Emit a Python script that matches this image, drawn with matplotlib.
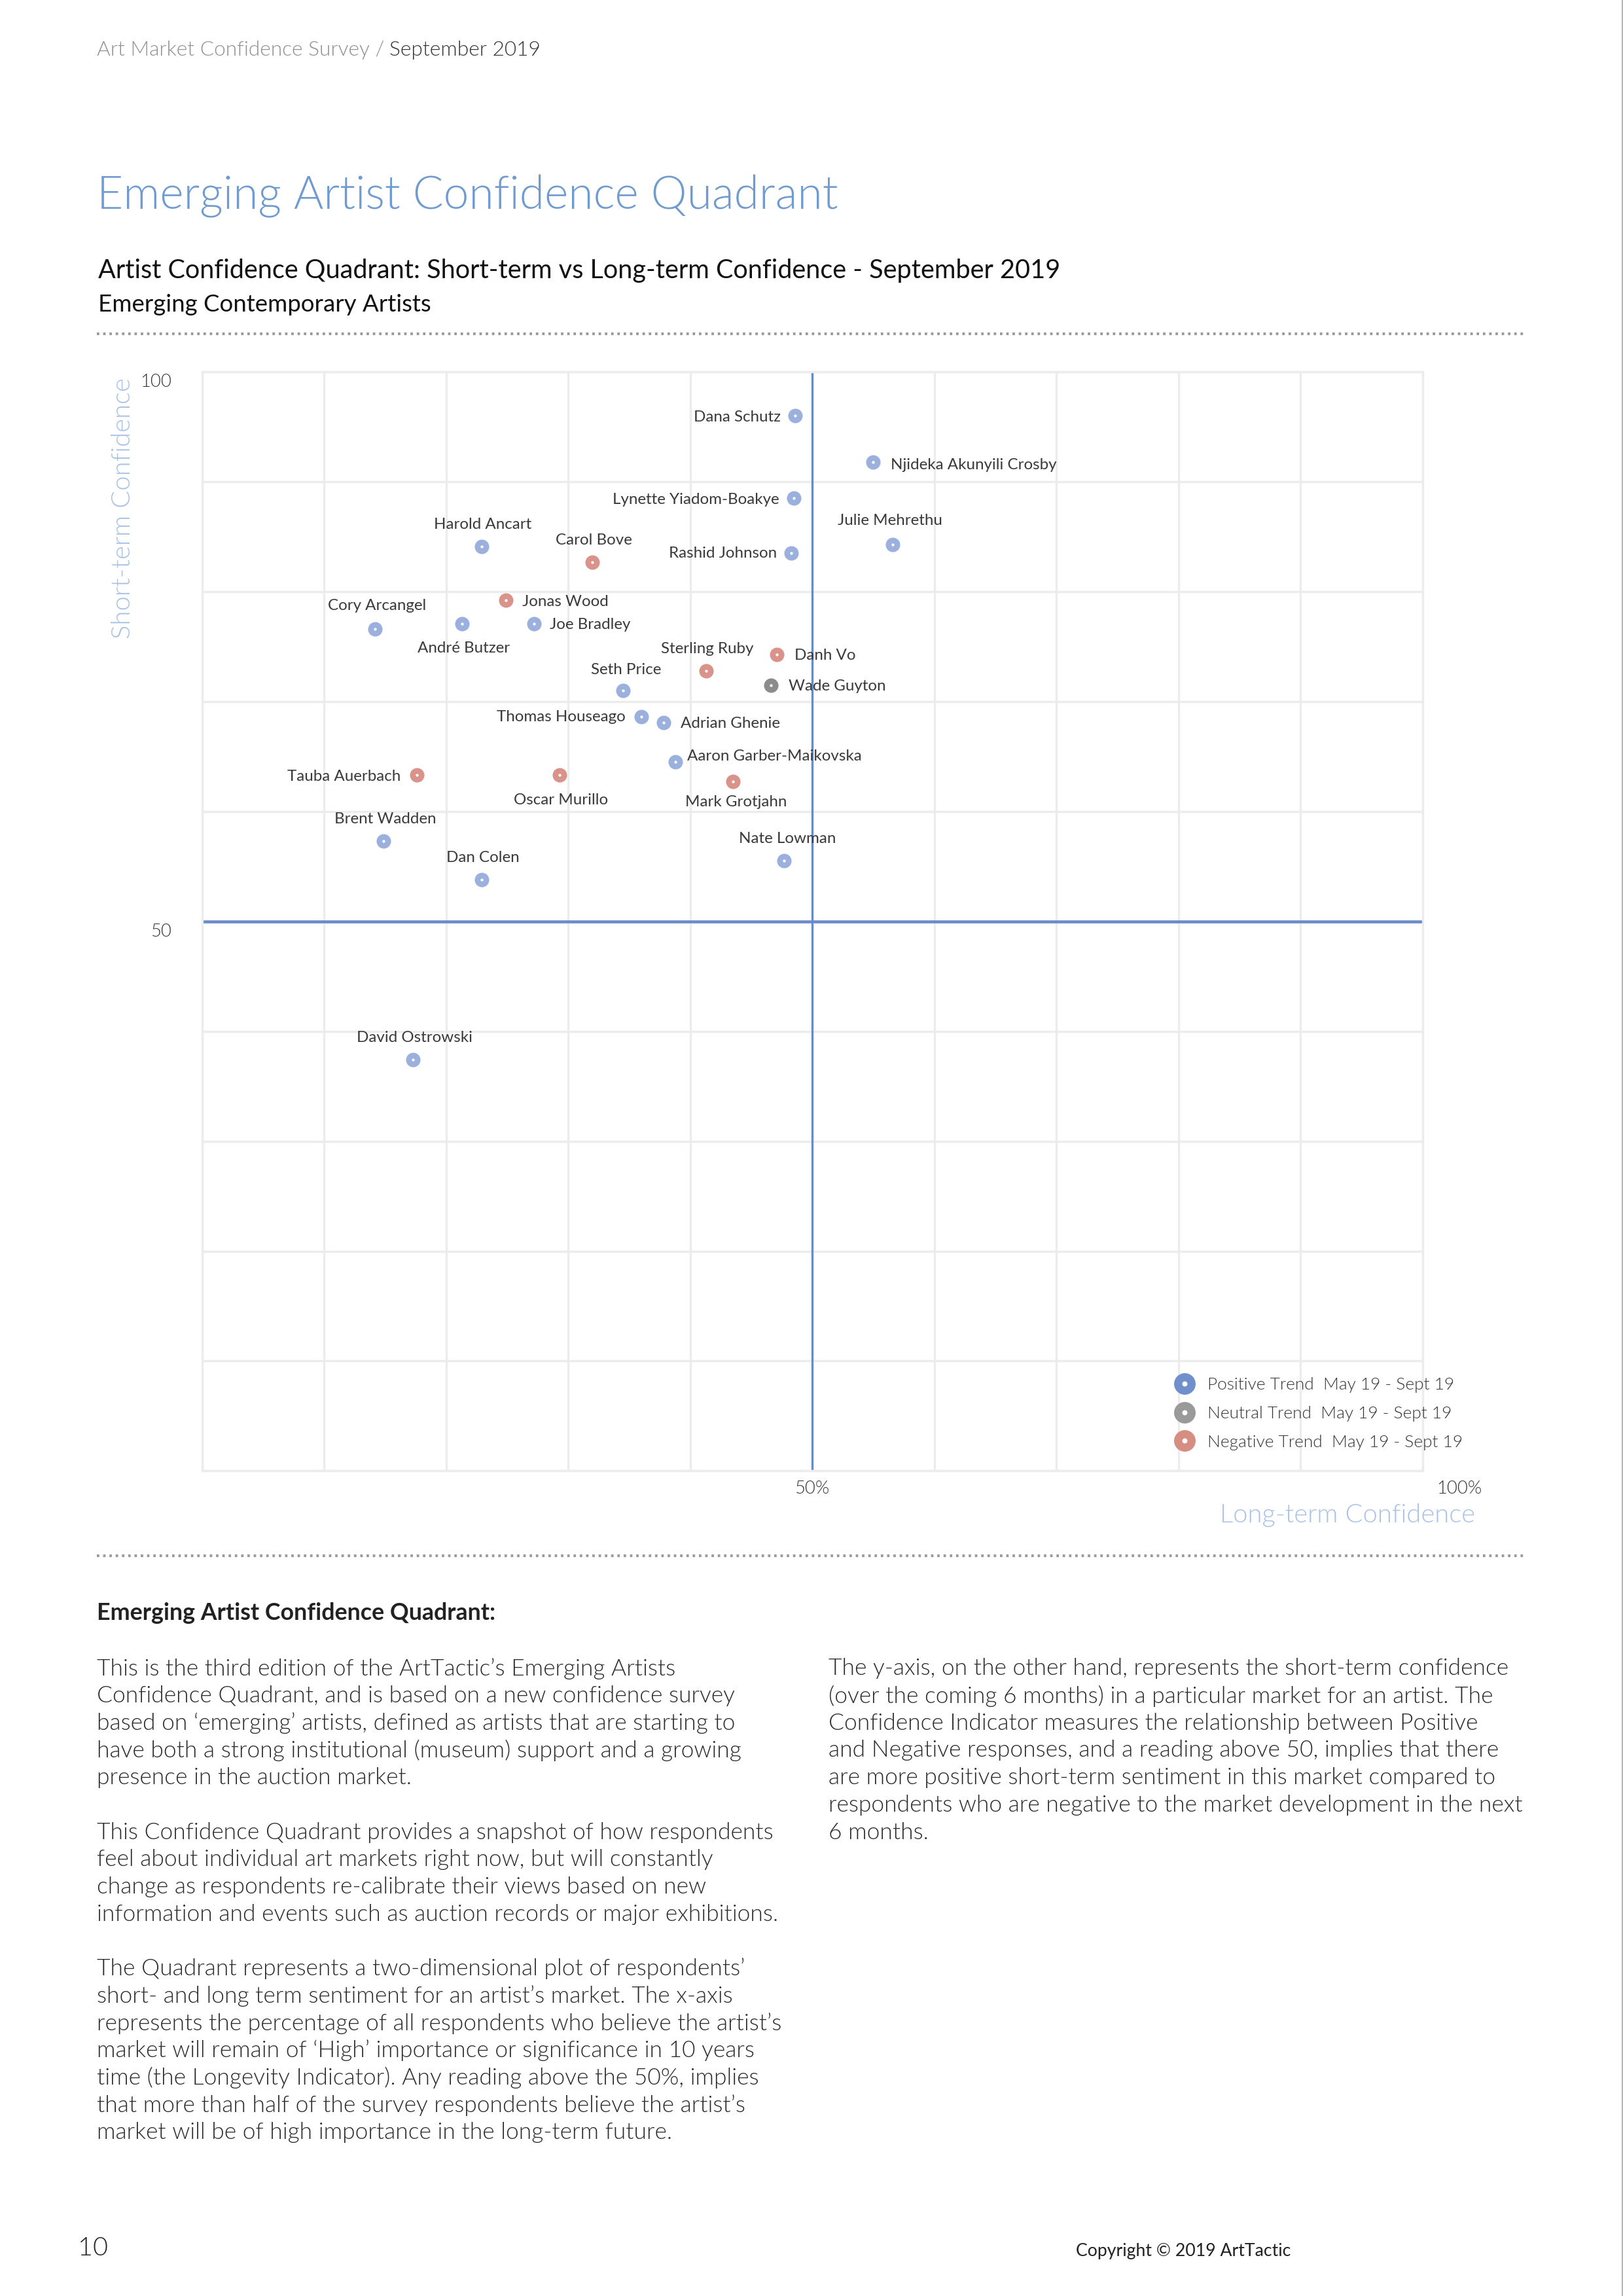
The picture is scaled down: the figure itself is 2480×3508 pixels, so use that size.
import matplotlib
matplotlib.use("Agg")
import matplotlib.pyplot as plt
from matplotlib.lines import Line2D
import matplotlib.transforms as mtransforms

# ---------------- data ----------------
artists = ["Dana Schutz", "Njideka Akunyili Crosby", "Lynette Yiadom-Boakye", "Julie Mehrethu",
           "Rashid Johnson", "Harold Ancart", "Carol Bove", "Jonas Wood", "Joe Bradley",
           "André Butzer", "Cory Arcangel", "Sterling Ruby", "Danh Vo", "Wade Guyton",
           "Seth Price", "Thomas Houseago", "Adrian Ghenie", "Aaron Garber-Maikovska",
           "Mark Grotjahn", "Tauba Auerbach", "Oscar Murillo", "Brent Wadden", "Dan Colen",
           "Nate Lowman", "David Ostrowski"]
long_term = [48.6, 55.0, 48.5, 56.6, 48.3, 22.9, 32.0, 24.9, 27.2, 21.3, 14.2, 41.3, 47.1, 46.6,
             34.5, 36.0, 37.8, 38.8, 43.5, 17.6, 29.3, 14.9, 22.9, 47.7, 17.3]
short_term = [96.0, 91.8, 88.5, 84.3, 83.5, 84.1, 82.7, 79.2, 77.1, 77.1, 76.6, 72.8, 74.3, 71.5,
              71.0, 68.6, 68.1, 64.5, 62.7, 63.3, 63.3, 57.3, 53.8, 55.5, 37.4]
trend = ["Positive", "Positive", "Positive", "Positive", "Positive", "Positive", "Negative",
         "Negative", "Positive", "Positive", "Positive", "Negative", "Negative", "Neutral",
         "Positive", "Positive", "Positive", "Positive", "Negative", "Negative", "Negative",
         "Positive", "Positive", "Positive", "Positive"]
trend_names = ["Positive", "Neutral", "Negative"]
legend_labels = ["Positive Trend  May 19 - Sept 19", "Neutral Trend  May 19 - Sept 19",
                 "Negative Trend  May 19 - Sept 19"]
y_ticks = [50, 100]
y_tick_labels = ["50", "100"]
x_ticks = [50, 100]
x_tick_labels = ["50%", "100%"]

# ---------------- layout / style (not data) ----------------
# label placement: (ha, dx, dy) in reference px, dy up positive
label_layout = {
    "Dana Schutz": ("right", -10, -1), "Njideka Akunyili Crosby": ("left", 12, -2),
    "Lynette Yiadom-Boakye": ("right", -10, -1), "Julie Mehrethu": ("center", -2, 16),
    "Rashid Johnson": ("right", -10, 0), "Harold Ancart": ("center", 1, 15),
    "Carol Bove": ("center", 1, 15), "Jonas Wood": ("left", 11, -1),
    "Joe Bradley": ("left", 11, -1), "André Butzer": ("center", 1, -17),
    "Cory Arcangel": ("center", 1, 16), "Sterling Ruby": ("center", 1, 15),
    "Danh Vo": ("left", 12, -1), "Wade Guyton": ("left", 12, -1),
    "Seth Price": ("center", 2, 14), "Thomas Houseago": ("right", -11, 0),
    "Adrian Ghenie": ("left", 12, -1), "Aaron Garber-Maikovska": ("left", 8, 4),
    "Mark Grotjahn": ("center", 2, -14), "Tauba Auerbach": ("right", -11, -1),
    "Oscar Murillo": ("center", 1, -17), "Brent Wadden": ("center", 1, 15),
    "Dan Colen": ("center", 1, 15), "Nate Lowman": ("center", 2, 15),
    "David Ostrowski": ("center", 1, 15),
}
point_colors = {"Positive": "#9cb0dd", "Neutral": "#8c8c8c", "Negative": "#d9938a"}
legend_colors = {"Positive": "#7090cc", "Neutral": "#9a9a9a", "Negative": "#d68d82"}

FONT = "Lato"
LIGHT = 300
plt.rcParams["font.family"] = [FONT, "DejaVu Sans"]

W, H = 2480, 3508
DPI = 300
S = W / 1109.0           # reference display px -> full px
PT = S * 72.0 / DPI      # reference display px -> points

fig = plt.figure(figsize=(W / DPI, H / DPI), dpi=DPI)
fig.patch.set_facecolor("white")


def fx(x):
    return x * S / W


def fy(y):
    return 1 - y * S / H


DARK = "#333333"
LIGHTBLUE = "#a9c1e6"

# header
renderer = fig.canvas.get_renderer()
t1 = fig.text(fx(66), fy(34), "Art Market Confidence Survey / ", fontsize=7.6,
              color="#8f8f8f", ha="left", va="center", fontweight=LIGHT)
bb = t1.get_window_extent(renderer)
fig.text(bb.x1 / W, fy(34), "September 2019", fontsize=7.6, color=DARK,
         ha="left", va="center", fontweight=LIGHT)

# titles
fig.text(fx(66), fy(134), "Emerging Artist Confidence Quadrant", fontsize=16.7,
         color="#6f9bd0", ha="left", va="center", fontweight=LIGHT)
fig.text(fx(67), fy(185), "Artist Confidence Quadrant: Short-term vs Long-term Confidence - September 2019",
         fontsize=9.5, color="#111111", ha="left", va="center")
fig.text(fx(67), fy(208), "Emerging Contemporary Artists", fontsize=8.8,
         color="#111111", ha="left", va="center")

# dotted separators
for yy in (228, 1063):
    fig.add_artist(Line2D([fx(66), fx(1043)], [fy(yy), fy(yy)], color="#9a9a9a",
                          lw=1.0, linestyle=(0, (0.9, 1.4)), transform=fig.transFigure))

# right page edge
fig.add_artist(Line2D([0.9995, 0.9995], [0, 1], color="#b5b5b5", lw=0.5,
                      transform=fig.transFigure))

# ---------------- axes ----------------
L, R, T, B = 138, 972, 254, 1005
ax = fig.add_axes([fx(L), fy(B), fx(R) - fx(L), fy(T) - fy(B)])
ax.set_xlim(0, 100)
ax.set_ylim(0, 100)
ax.set_xticks(range(0, 101, 10), minor=True)
ax.set_yticks(range(0, 101, 10), minor=True)
ax.grid(which="minor", color="#ececec", lw=0.8, zorder=0)
ax.set_xticks([])
ax.set_yticks([])
ax.tick_params(which="both", length=0)
for sp in ax.spines.values():
    sp.set_color("#ececec")
    sp.set_linewidth(0.8)

# tick labels (y: right-aligned left of axis, slightly below the value)
ytr = mtransforms.blended_transform_factory(ax.transAxes, ax.transData)
for v, lab in zip(y_ticks, y_tick_labels):
    ax.text(0, v, lab, transform=ytr + mtransforms.ScaledTranslation(-21 * PT / 72, -1.5 * PT / 72,
                                                                       fig.dpi_scale_trans),
            ha="right", va="top", fontsize=6.6, color=DARK, fontweight=LIGHT)
xtr = mtransforms.blended_transform_factory(ax.transData, ax.transAxes)
x_shift = {50: 0, 100: 25}
for v, lab in zip(x_ticks, x_tick_labels):
    ax.text(v, 0, lab, transform=xtr + mtransforms.ScaledTranslation(x_shift[v] * PT / 72, -6.5 * PT / 72,
                                                                       fig.dpi_scale_trans),
            ha="center", va="top", fontsize=6.6, color=DARK, fontweight=LIGHT, clip_on=False)

# quadrant lines
ax.axvline(50, color="#6a8bcb", lw=0.8, zorder=2)
ax.axhline(50, color="#6a8bcb", lw=1.1, zorder=2)

# points
for tname in trend_names:
    xs = [x for x, t in zip(long_term, trend) if t == tname]
    ys = [y for y, t in zip(short_term, trend) if t == tname]
    ax.scatter(xs, ys, s=3.2 ** 2, facecolor="white", edgecolor=point_colors[tname],
               linewidths=2.1, zorder=4)

for name, x, y in zip(artists, long_term, short_term):
    ha, dx, dy = label_layout[name]
    ax.annotate(name, (x, y), xytext=(dx * PT, dy * PT), textcoords="offset points",
                ha=ha, va="center", fontsize=5.8, color="#3a3a3a", zorder=5)

# legend
handles = [Line2D([], [], ls="", marker="o", ms=4.9, mfc="white",
                  mec=legend_colors[t], mew=3.0) for t in trend_names]
leg = ax.legend(handles, legend_labels, loc="upper left",
                bbox_to_anchor=((804 - L) / (R - L), (B - 941) / (B - T)),
                frameon=False, fontsize=6.3, handlelength=0.9, handletextpad=0.9,
                labelspacing=0.75, borderpad=0, borderaxespad=0)
for t in leg.get_texts():
    t.set_color(DARK)
    t.set_fontweight(LIGHT)

# axis titles
fig.text(fx(84), fy(258), "Short-term Confidence", rotation=90, ha="center", va="top",
         fontsize=9.6, color=LIGHTBLUE, fontweight=LIGHT)
fig.text(fx(1008), fy(1035), "Long-term Confidence", ha="right", va="center",
         fontsize=9.6, color=LIGHTBLUE, fontweight=LIGHT)

# ---------------- body text ----------------
fig.text(fx(66), fy(1102), "Emerging Artist Confidence Quadrant:", fontsize=8.6,
         fontweight="bold", color="#222222", ha="left", va="center")

left_paras = [
    (1140, ["This is the third edition of the ArtTactic\u2019s Emerging Artists",
            "Confidence Quadrant, and is based on a new confidence survey",
            "based on \u2018emerging\u2019 artists, defined as artists that are starting to",
            "have both a strong institutional (museum) support and a growing",
            "presence in the auction market."]),
    (1252, ["This Confidence Quadrant provides a snapshot of how respondents",
            "feel about individual art markets right now, but will constantly",
            "change as respondents re-calibrate their views based on new",
            "information and events such as auction records or major exhibitions."]),
    (1345, ["The Quadrant represents a two-dimensional plot of respondents\u2019",
            "short- and long term sentiment for an artist\u2019s market. The x-axis",
            "represents the percentage of all respondents who believe the artist\u2019s",
            "market will remain of \u2018High\u2019 importance or significance in 10 years",
            "time (the Longevity Indicator). Any reading above the 50%, implies",
            "that more than half of the survey respondents believe the artist\u2019s",
            "market will be of high importance in the long-term future."]),
]
right_paras = [
    (1140, ["The y-axis, on the other hand, represents the short-term confidence",
            "(over the coming 6 months) in a particular market for an artist. The",
            "Confidence Indicator measures the relationship between Positive",
            "and Negative responses, and a reading above 50, implies that there",
            "are more positive short-term sentiment in this market compared to",
            "respondents who are negative to the market development in the next",
            "6 months."]),
]
LINE = 18.65
for x0, paras in ((66, left_paras), (566, right_paras)):
    for y0, lines in paras:
        for i, ln in enumerate(lines):
            fig.text(fx(x0), fy(y0 + i * LINE), ln, fontsize=8.5, color="#2a2a2a",
                     ha="left", va="center", fontweight=LIGHT)

# footer
fig.text(fx(53), fy(1536), "10", fontsize=9.5, color="#222222", ha="left", va="center",
         fontweight=LIGHT)
fig.text(fx(735), fy(1538), "Copyright \u00a9 2019 ArtTactic", fontsize=6.4, color="#222222",
         ha="left", va="center")

fig.savefig("out.png", dpi=DPI, facecolor="white")
